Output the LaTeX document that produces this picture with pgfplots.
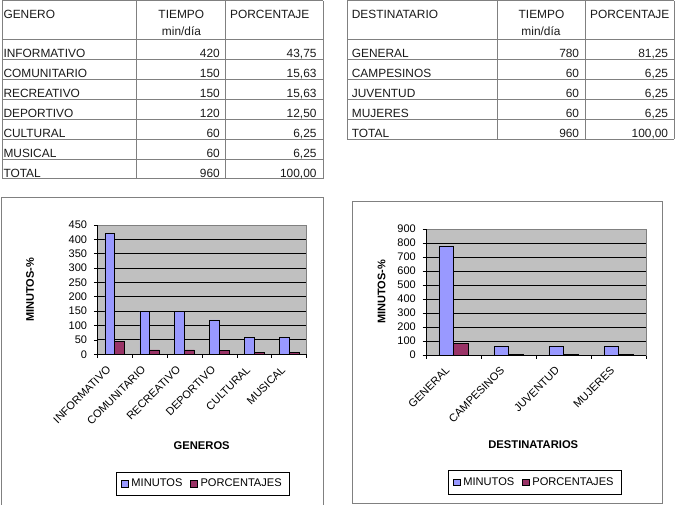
\documentclass[border=0pt]{standalone}
\usepackage{fontspec}
\setmainfont{Liberation Sans}
\usepackage{pgfplots}
\pgfplotsset{compat=1.18}
\definecolor{barblue}{HTML}{9999FF}
\definecolor{barred}{HTML}{993366}
\definecolor{plotbg}{HTML}{C0C0C0}
\definecolor{tline}{HTML}{808080}
\definecolor{ttext}{HTML}{1A1A1A}

\pgfplotsset{
 excelbar/.style={
   scale only axis, anchor=south west,
   /pgf/number format/assume math mode=true,
   axis background/.style={fill=plotbg},
   axis line style={draw=tline, line width=0.7pt},
   ybar=0pt,
   ymin=0, enlarge x limits=false,
   ymajorgrids, major grid style={black, line width=0.9pt},
   extra y tick style={grid=none},
   tick align=outside, major tick length=3.5pt, tick pos=left,
   tick style={black, line width=0.7pt},
   xticklabels={},
   extra x tick style={major tick length=0pt, grid=none},
   tick label style={font=\fontsize{11}{13}\selectfont},
   yticklabel style={inner sep=0pt, xshift=-6.5pt},
   xticklabel style={xshift=-8.8pt, yshift=-10.7pt, rotate=45, anchor=north east, inner sep=0pt},
   legend columns=2,
   legend style={anchor=center, draw=black, fill=white, line width=0.6pt,
     font=\fontsize{11.1}{12}\selectfont, inner xsep=5pt, inner ysep=5pt,
     nodes={inner xsep=3pt, inner ysep=2pt},
     /tikz/every even column/.append style={column sep=5pt}},
   legend image code/.code={\draw[#1, draw=black, line width=0.5pt] (0pt,-3.3pt) rectangle (6.6pt,3.3pt);},
   every axis plot/.append style={draw=black, line width=0.6pt},
   after end axis/.code={\draw[black, line width=0.9pt] (rel axis cs:0,1) -- (rel axis cs:0,0) -- (rel axis cs:1,0);},
 }
}

\begin{document}
\begin{tikzpicture}[x=1pt, y=1pt]
\path[use as bounding box] (0,0) rectangle (675,504);

% ---------- Table 1 ----------
\begin{scope}[tline, line width=1pt]
\foreach \yy in {503,464.7,444.7,424.7,404.7,384.7,364.7,344.7,325}
  \draw (2,\yy) -- (323,\yy);
\foreach \xx in {2,136,225,323}
  \draw (\xx,503) -- (\xx,325);
% ---------- Table 2 ----------
\foreach \yy in {503,464.7,444.7,424.7,404.7,384.7,364.7}
  \draw (347,\yy) -- (674,\yy);
\foreach \xx in {347,497.7,585,674}
  \draw (\xx,503) -- (\xx,364.7);
\end{scope}

\begin{scope}[every node/.style={inner sep=0pt, text=ttext, font=\fontsize{11.9}{14}\selectfont}]
\node[anchor=base west] at (3.3,485.7) {GENERO};
\node[anchor=base] at (181.3,485.7) {TIEMPO};
\node[anchor=base] at (181.5,468) {min/día};
\node[anchor=base west] at (230,485.7) {PORCENTAJE};

\node[anchor=base west] at (3.3,446.7) {INFORMATIVO};
\node[anchor=base west] at (3.3,426.7) {COMUNITARIO};
\node[anchor=base west] at (3.3,406.7) {RECREATIVO};
\node[anchor=base west] at (3.3,386.7) {DEPORTIVO};
\node[anchor=base west] at (3.3,366.7) {CULTURAL};
\node[anchor=base west] at (3.3,346.7) {MUSICAL};
\node[anchor=base west] at (3.3,326.7) {TOTAL};

\node[anchor=base east] at (220,446.7) {420};
\node[anchor=base east] at (220,426.7) {150};
\node[anchor=base east] at (220,406.7) {150};
\node[anchor=base east] at (220,386.7) {120};
\node[anchor=base east] at (220,366.7) {60};
\node[anchor=base east] at (220,346.7) {60};
\node[anchor=base east] at (220,326.7) {960};

\node[anchor=base east] at (316.7,446.7) {43,75};
\node[anchor=base east] at (316.7,426.7) {15,63};
\node[anchor=base east] at (316.7,406.7) {15,63};
\node[anchor=base east] at (316.7,386.7) {12,50};
\node[anchor=base east] at (316.7,366.7) {6,25};
\node[anchor=base east] at (316.7,346.7) {6,25};
\node[anchor=base east] at (316.7,326.7) {100,00};

\node[anchor=base west] at (351.7,485.7) {DESTINATARIO};
\node[anchor=base] at (541.5,485.7) {TIEMPO};
\node[anchor=base] at (541,468) {min/día};
\node[anchor=base west] at (590,485.7) {PORCENTAJE};

\node[anchor=base west] at (351.7,446.7) {GENERAL};
\node[anchor=base west] at (351.7,426.7) {CAMPESINOS};
\node[anchor=base west] at (351.7,406.7) {JUVENTUD};
\node[anchor=base west] at (351.7,386.7) {MUJERES};
\node[anchor=base west] at (351.7,366.7) {TOTAL};

\node[anchor=base east] at (579.3,446.7) {780};
\node[anchor=base east] at (579.3,426.7) {60};
\node[anchor=base east] at (579.3,406.7) {60};
\node[anchor=base east] at (579.3,386.7) {60};
\node[anchor=base east] at (579.3,366.7) {960};

\node[anchor=base east] at (668.3,446.7) {81,25};
\node[anchor=base east] at (668.3,426.7) {6,25};
\node[anchor=base east] at (668.3,406.7) {6,25};
\node[anchor=base east] at (668.3,386.7) {6,25};
\node[anchor=base east] at (668.3,366.7) {100,00};
\end{scope}

% ---------- chart frames ----------
\draw[tline, line width=0.9pt] (1.7,306.7) rectangle (323.3,-3);
\draw[tline, line width=0.9pt] (352.3,303) rectangle (662.3,0.7);

% ---------- Left chart ----------
\begin{axis}[excelbar, at={(97.3pt,149.7pt)}, width=209.4pt, height=129.3pt,
  xmin=-0.5, xmax=5.5, ymax=450, bar width=9.8pt,
  ytick={0,50,...,400}, extra y ticks={450},
  xtick={-0.5,0.5,...,5.5},
  extra x ticks={0,1,2,3,4,5},
  extra x tick labels={INFORMATIVO,COMUNITARIO,RECREATIVO,DEPORTIVO,CULTURAL,MUSICAL},
  legend style={at={(0.505,-0.999)}}]
\addplot[fill=barblue] coordinates {(0,420) (1,150) (2,150) (3,120) (4,60) (5,60)};
\addplot[fill=barred] coordinates {(0,43.75) (1,15.63) (2,15.63) (3,12.50) (4,6.25) (5,6.25)};
\legend{MINUTOS,PORCENTAJES}
\end{axis}
\node[rotate=90, font=\bfseries\fontsize{11}{13}\selectfont] at (30,214) {MINUTOS-\%};
\node[font=\bfseries\fontsize{11.2}{13}\selectfont] at (201.7,58) {GENEROS};

% ---------- Right chart ----------
\begin{axis}[excelbar, at={(426pt,149pt)}, width=220pt, height=126pt,
  xmin=-0.5, xmax=3.5, ymax=900, bar width=14.7pt,
  ytick={0,100,...,800}, extra y ticks={900},
  xtick={-0.5,0.5,...,3.5},
  extra x ticks={0,1,2,3},
  extra x tick labels={GENERAL,CAMPESINOS,JUVENTUD,MUJERES},
  legend style={at={(0.495,-1.01)}}]
\addplot[fill=barblue] coordinates {(0,780) (1,60) (2,60) (3,60)};
\addplot[fill=barred] coordinates {(0,81.25) (1,6.25) (2,6.25) (3,6.25)};
\legend{MINUTOS,PORCENTAJES}
\end{axis}
\node[rotate=90, font=\bfseries\fontsize{11}{13}\selectfont] at (381.7,212.3) {MINUTOS-\%};
\node[font=\bfseries\fontsize{11.2}{13}\selectfont] at (533.3,59.7) {DESTINATARIOS};
\end{tikzpicture}
\end{document}
